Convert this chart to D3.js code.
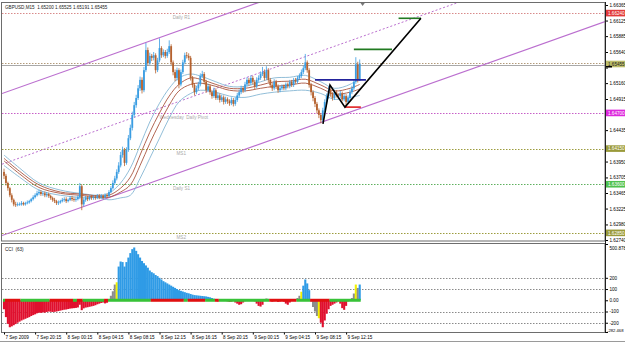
<!DOCTYPE html>
<html>
<head>
<meta charset="utf-8">
<script src="https://cdn.jsdelivr.net/npm/d3@7"></script>
<style>
  body { margin: 0; background: #fff; }
  text { font-family: "Liberation Sans", Arial, sans-serif; }
</style>
</head>
<body>
<div id="chart"></div>
<script>
// ---- data ----
var firstOpen = 1.6379;
var closes = [
  1.6373,1.6362,1.6354,1.6343,1.6336,1.6329,1.6328,1.6329,1.6329,1.6331,
  1.6329,1.6331,1.6332,1.6334,1.6337,1.6340,1.6343,1.6346,1.6348,1.6345,
  1.6346,1.6343,1.6345,1.6342,1.6339,1.6336,1.6334,1.6331,1.6332,1.6334,
  1.6336,1.6337,1.6334,1.6336,1.6339,1.6337,1.6336,1.6337,1.6340,1.6357,
  1.6329,1.6336,1.6339,1.6337,1.6340,1.6339,1.6340,1.6339,1.6342,1.6340,
  1.6342,1.6340,1.6343,1.6342,1.6348,1.6354,1.6362,1.6369,1.6379,1.6389,
  1.6405,1.6413,1.6393,1.6413,1.6431,1.6447,1.6467,1.6482,1.6493,1.6508,
  1.6521,1.6505,1.6536,1.6567,1.6547,1.6558,1.6555,1.6559,1.6536,1.6551,
  1.6570,1.6559,1.6564,1.6558,1.6564,1.6573,1.6548,1.6533,1.6524,1.6536,
  1.6514,1.6533,1.6548,1.6559,1.6558,1.6555,1.6524,1.6513,1.6502,1.6508,
  1.6514,1.6527,1.6530,1.6518,1.6505,1.6511,1.6502,1.6496,1.6505,1.6493,
  1.6497,1.6490,1.6494,1.6487,1.6491,1.6488,1.6485,1.6490,1.6484,1.6490,
  1.6497,1.6502,1.6508,1.6505,1.6514,1.6521,1.6516,1.6524,1.6518,1.6511,
  1.6521,1.6524,1.6530,1.6533,1.6524,1.6536,1.6521,1.6513,1.6508,1.6518,
  1.6511,1.6505,1.6508,1.6511,1.6508,1.6514,1.6511,1.6518,1.6513,1.6521,
  1.6518,1.6524,1.6527,1.6533,1.6539,1.6548,1.6536,1.6513,1.6502,1.6493,
  1.6484,1.6474,1.6467,1.6459,1.6474,1.6487,1.6496,1.6505,1.6499,1.6493,
  1.6502,1.6497,1.6496,1.6500,1.6491,1.6496,1.6487,1.6493,1.6502,1.6508,
  1.6518,1.6545,1.6520,1.65455
];
var highs = [
  1.6384,1.6376,1.6364,1.6356,1.6346,1.6338,1.6333,1.6332,1.6332,1.6334,
  1.6333,1.6333,1.6335,1.6336,1.6339,1.6343,1.6346,1.6350,1.6352,1.6351,
  1.6349,1.6349,1.6348,1.6347,1.6344,1.6341,1.6339,1.6336,1.6335,1.6336,
  1.6339,1.6340,1.6340,1.6338,1.6342,1.6342,1.6340,1.6340,1.6343,1.6362,
  1.6360,1.6339,1.6342,1.6342,1.6343,1.6343,1.6343,1.6343,1.6345,1.6345,
  1.6345,1.6344,1.6346,1.6346,1.6351,1.6357,1.6366,1.6373,1.6383,1.6394,
  1.6410,1.6418,1.6416,1.6417,1.6436,1.6452,1.6472,1.6487,1.6498,1.6513,
  1.6526,1.6525,1.6541,1.6578,1.6571,1.6563,1.6561,1.6564,1.6562,1.6555,
  1.6585,1.6573,1.6568,1.6567,1.6569,1.6582,1.6576,1.6551,1.6537,1.6540,
  1.6539,1.6537,1.6552,1.6563,1.6564,1.6562,1.6558,1.6527,1.6516,1.6512,
  1.6518,1.6531,1.6535,1.6533,1.6521,1.6515,1.6514,1.6505,1.6509,1.6508,
  1.6501,1.6500,1.6498,1.6497,1.6495,1.6494,1.6491,1.6494,1.6493,1.6494,
  1.6501,1.6506,1.6512,1.6511,1.6518,1.6525,1.6524,1.6528,1.6527,1.6521,
  1.6525,1.6528,1.6534,1.6541,1.6537,1.6542,1.6539,1.6524,1.6516,1.6522,
  1.6521,1.6514,1.6512,1.6514,1.6514,1.6517,1.6517,1.6521,1.6521,1.6524,
  1.6524,1.6527,1.6531,1.6537,1.6543,1.6561,1.6551,1.6539,1.6516,1.6505,
  1.6496,1.6487,1.6477,1.6470,1.6478,1.6491,1.6500,1.6511,1.6508,1.6502,
  1.6506,1.6505,1.6500,1.6504,1.6503,1.6499,1.6499,1.6497,1.6506,1.6512,
  1.6522,1.6556,1.6549,1.65525
];
var lows = [
  1.6368,1.6358,1.6350,1.6340,1.6332,1.6326,1.6325,1.6326,1.6327,1.6327,
  1.6327,1.6327,1.6329,1.6330,1.6332,1.6335,1.6338,1.6341,1.6343,1.6342,
  1.6342,1.6340,1.6340,1.6339,1.6336,1.6333,1.6331,1.6328,1.6328,1.6330,
  1.6332,1.6333,1.6331,1.6332,1.6334,1.6334,1.6333,1.6333,1.6335,1.6337,
  1.6320,1.6326,1.6333,1.6334,1.6335,1.6336,1.6336,1.6336,1.6337,1.6337,
  1.6338,1.6337,1.6338,1.6339,1.6340,1.6346,1.6352,1.6359,1.6366,1.6376,
  1.6386,1.6401,1.6388,1.6390,1.6410,1.6428,1.6443,1.6463,1.6478,1.6490,
  1.6504,1.6500,1.6502,1.6533,1.6543,1.6544,1.6550,1.6551,1.6531,1.6533,
  1.6548,1.6555,1.6556,1.6554,1.6555,1.6561,1.6544,1.6528,1.6519,1.6520,
  1.6508,1.6511,1.6530,1.6545,1.6554,1.6551,1.6520,1.6509,1.6497,1.6499,
  1.6505,1.6511,1.6524,1.6514,1.6501,1.6502,1.6498,1.6492,1.6493,1.6490,
  1.6490,1.6486,1.6487,1.6483,1.6484,1.6484,1.6481,1.6482,1.6480,1.6481,
  1.6487,1.6494,1.6499,1.6501,1.6502,1.6511,1.6512,1.6513,1.6514,1.6507,
  1.6508,1.6518,1.6521,1.6527,1.6520,1.6521,1.6517,1.6509,1.6504,1.6505,
  1.6507,1.6501,1.6502,1.6505,1.6505,1.6505,1.6508,1.6508,1.6510,1.6510,
  1.6515,1.6515,1.6521,1.6524,1.6530,1.6536,1.6532,1.6509,1.6497,1.6488,
  1.6479,1.6469,1.6462,1.6454,1.6456,1.6471,1.6484,1.6492,1.6495,1.6489,
  1.6490,1.6494,1.6492,1.6493,1.6488,1.6488,1.6479,1.6484,1.6490,1.6499,
  1.6505,1.6515,1.6517,1.65191
];
var opens = [firstOpen].concat(closes.slice(0, -1));

// moving average lines, read at sample bars
var maIdx   = [0,8,18,29,39,49,54,60,65,70,75,80,85,90,96,101,109,116,124,132,139,147,155,163,170,178,183];
var maFast  = [1.6405,1.6385,1.6362,1.6351,1.6346,1.6343,1.6346,1.6362,1.6385,1.6420,1.6456,1.6485,1.6508,1.6524,1.6530,1.6527,1.6518,1.6511,1.6511,1.6518,1.6524,1.6525,1.6528,1.6518,1.6508,1.6514,1.6524];
var maMid1  = [1.6400,1.6380,1.6359,1.6348,1.6345,1.6342,1.6343,1.6354,1.6371,1.6405,1.6440,1.6470,1.6496,1.6514,1.6524,1.6522,1.6514,1.6508,1.6508,1.6513,1.6518,1.6519,1.6522,1.6513,1.6504,1.6508,1.6514];
var maMid2  = [1.6396,1.6376,1.6355,1.6346,1.6343,1.6340,1.6340,1.6348,1.6359,1.6389,1.6423,1.6454,1.6482,1.6504,1.6514,1.6516,1.6511,1.6505,1.6504,1.6508,1.6511,1.6513,1.6516,1.6508,1.6499,1.6502,1.6507];
var maSlow  = [1.6389,1.6371,1.6351,1.6343,1.6340,1.6339,1.6336,1.6339,1.6343,1.6369,1.6400,1.6431,1.6462,1.6487,1.6500,1.6505,1.6502,1.6496,1.6494,1.6499,1.6502,1.6504,1.6505,1.6500,1.6491,1.6494,1.6497];

// CCI(63) per bar
var cci = [
  -80,-150,-210,-240,-232,-222,-212,-200,-190,-180,
  -172,-165,-157,-150,-140,-132,-125,-116,-110,-112,
  -108,-110,-104,-100,-102,-104,-103,-100,-96,-92,
  -88,-84,-82,-78,-74,-72,-70,-68,-64,-40,
  -88,-72,-65,-62,-58,-54,-50,-44,-36,-30,
  -24,-20,-28,-22,10,40,80,140,160,300,
  345,340,300,340,380,420,455,470,440,410,
  380,350,330,310,290,265,250,240,225,215,
  200,185,170,160,150,140,130,120,110,100,
  90,84,78,72,66,62,56,50,46,44,
  42,40,38,36,34,30,26,20,14,-6,
  -10,2,4,-4,2,-10,-14,-12,-6,-20,
  -30,-40,-35,-20,-8,6,2,8,4,-10,
  -30,-50,-56,-40,10,16,12,8,-12,-8,
  4,-14,-10,-4,-12,-30,-40,-20,-6,2,
  10,20,40,76,130,185,150,90,-10,-60,
  -100,-140,-160,-200,-240,-180,-120,-80,-50,-40,
  -30,-20,-10,-30,-70,-85,-50,-10,10,20,
  60,140,110,140
];
var cciGray = [54,55,56,57,111,112,114,125,126,127,128,134,135,136,137,140,149,150,151,152,158,159,160,161,178,179,180,182];
var cciYellow = [58,153,162,181];
// zero line colour runs [from, to, state]
var zeroRuns = [[0,0,"up"],[1,8,"down"],[9,23,"up"],[24,35,"down"],[36,37,"up"],[38,40,"down"],
  [41,51,"up"],[52,53,"down"],[54,75,"up"],[76,92,"down"],[93,94,"up"],[95,103,"down"],
  [104,108,"up"],[109,110,"down"],[111,136,"up"],[137,150,"down"],[151,157,"up"],
  [158,167,"down"],[168,183,"up"]];
var cciLevels = [200, 100, -100, -200];
var cciTicks = [500.878, 200, 100, 0, -100, -200, -282.468];
var cciTickLabels = ["500.878", "200", "100", "0.00", "-100", "-200", "-282.468"];

// axes
var priceTicks = [1.62740,1.62980,1.63225,1.63465,1.63705,1.63950,1.64190,1.64435,
  1.64675,1.64915,1.65160,1.65400,1.65640,1.65885,1.66125,1.66365];
var timeIdx = [0,16,32,48,64,80,96,112,128,144,160,176];
var timeLabels = ["7 Sep 2009","7 Sep 20:15","8 Sep 00:15","8 Sep 04:15","8 Sep 08:15",
  "8 Sep 12:15","8 Sep 16:15","8 Sep 20:15","9 Sep 00:15","9 Sep 04:15","9 Sep 08:15","9 Sep 12:15"];

// pivot levels
var levelNames  = ["Daily R1", "Wednesday  Daily Pivot", "MS1", "Daily S1", "MS2"];
var levelPrices = [1.66240, 1.64700, 1.64150, 1.63600, 1.62850];
var pivotDotted = 1.65475;
var bidLine = 1.65440;

// channel anchors (bar index, price)
var channelIdx = [0, 300];
var chUpper = [1.6501, 1.6820];
var chMid   = [1.6392, 1.6711];
var chLower = [1.6282, 1.6601];

// drawn objects
var zigIdx   = [164.1, 167.7, 175.4, 214.5];
var zigPrice = [1.6453, 1.6513, 1.6479, 1.6616];
var hSegStart = [160, 175.4, 180, 203];
var hSegEnd   = [186.2, 183.6, 199.6, 214.5];
var hSegPrice = [1.6521, 1.6479, 1.6568, 1.6616];
var hSegColor = ["#23239c", "#e02020", "#217a21", "#217a21"];

// ---- layout ----
var W = 625, H = 342;
var left = 2, right = 605;
var mainTop = 2, mainBot = 241, cciTop = 243, cciBot = 332;

var x = d3.scaleLinear().domain([0, 176]).range([4, 346.1]);
var y = d3.scaleLinear().domain([1.62740, 1.66365]).range([240, 5]);
var yc = d3.scaleLinear().domain([-282.468, 500.878]).range([cciBot, 244]);

var svg = d3.select("#chart").append("svg")
  .attr("width", W).attr("height", H)
  .style("font-size", "4.6px");

var defs = svg.append("defs");
defs.append("clipPath").attr("id", "clipMain").append("rect")
  .attr("x", left).attr("y", mainTop).attr("width", right - left).attr("height", mainBot - mainTop);
defs.append("clipPath").attr("id", "clipCci").append("rect")
  .attr("x", left).attr("y", cciTop).attr("width", right - left).attr("height", cciBot - cciTop);

var main = svg.append("g").attr("clip-path", "url(#clipMain)");

// horizontal levels
var levelColor = {"Daily R1": "#d88a8a", "Wednesday  Daily Pivot": "#c75fc7", "MS1": "#9c9c3e", "Daily S1": "#5fb05f", "MS2": "#9c9c3e"};
var levelLabelX = {"Daily R1": 190, "Wednesday  Daily Pivot": 208, "MS1": 186, "Daily S1": 190, "MS2": 186};
levelPrices.forEach(function(p, i) {
  main.append("line")
    .attr("x1", left).attr("x2", right)
    .attr("y1", Math.round(y(p)) + 0.5).attr("y2", Math.round(y(p)) + 0.5)
    .style("stroke", levelColor[levelNames[i]])
    .style("stroke-dasharray", "1.5,1.5");
  main.append("text")
    .attr("x", levelLabelX[levelNames[i]])
    .attr("y", Math.round(y(p)) + 5.5)
    .style("text-anchor", "end")
    .style("fill", "#aaaaaa")
    .style("white-space", "pre")
    .text(levelNames[i]);
});
main.append("line")
  .attr("x1", left).attr("x2", right)
  .attr("y1", Math.round(y(pivotDotted)) + 0.5).attr("y2", Math.round(y(pivotDotted)) + 0.5)
  .style("stroke", "#b29a7a").style("stroke-dasharray", "1.5,1.5");
main.append("line")
  .attr("x1", left).attr("x2", right)
  .attr("y1", Math.round(y(bidLine)) + 0.5).attr("y2", Math.round(y(bidLine)) + 0.5)
  .style("stroke", "#a9a9a9");

// channel
function chLine(a) {
  var slope = (a[1] - a[0]) / (channelIdx[1] - channelIdx[0]);
  var i0 = x.invert(left), i1 = x.invert(right);
  return [[x(i0), y(a[0] + slope * (i0 - channelIdx[0]))], [x(i1), y(a[0] + slope * (i1 - channelIdx[0]))]];
}
[chUpper, chLower].forEach(function(a) {
  main.append("path").attr("d", d3.line()(chLine(a)))
    .style("stroke", "#bb6fcf").style("stroke-width", 1.2).style("fill", "none");
});
main.append("path").attr("d", d3.line()(chLine(chMid)))
  .style("stroke", "#bb6fcf").style("stroke-width", 1).style("stroke-dasharray", "2,2").style("fill", "none");

// moving averages
var maLine = d3.line().curve(d3.curveCatmullRom)
  .x(function(d) { return x(d[0]); })
  .y(function(d) { return y(d[1]); });
[[maSlow, "#86b7d4"], [maFast, "#86b7d4"], [maMid2, "#a9553f"], [maMid1, "#a9553f"]].forEach(function(m) {
  main.append("path")
    .attr("d", maLine(maIdx.map(function(v, i) { return [v, m[0][i]]; })))
    .style("fill", "none").style("stroke", m[1]).style("stroke-width", 0.9);
});

// candles
var candles = closes.map(function(c, i) {
  return {i: i, o: opens[i], h: highs[i], l: lows[i], c: c};
});
function candleColor(d) { return d.c >= d.o ? "#3a9de2" : "#b5622f"; }
main.selectAll(".wick").data(candles).enter().append("line")
  .attr("class", "wick")
  .attr("x1", function(d) { return x(d.i); })
  .attr("x2", function(d) { return x(d.i); })
  .attr("y1", function(d) { return y(d.h); })
  .attr("y2", function(d) { return y(d.l); })
  .style("stroke", candleColor).style("stroke-width", 0.8);
main.selectAll(".body").data(candles).enter().append("rect")
  .attr("class", "body")
  .attr("x", function(d) { return x(d.i) - 0.9; })
  .attr("width", 1.8)
  .attr("y", function(d) { return y(Math.max(d.o, d.c)); })
  .attr("height", function(d) { return Math.max(0.8, Math.abs(y(d.o) - y(d.c))); })
  .style("fill", candleColor);

// drawn objects
hSegPrice.forEach(function(p, i) {
  main.append("line")
    .attr("x1", x(hSegStart[i])).attr("x2", x(hSegEnd[i]))
    .attr("y1", y(p)).attr("y2", y(p))
    .style("stroke", hSegColor[i]).style("stroke-width", 1.6);
});
main.append("path")
  .attr("d", d3.line()(zigIdx.map(function(v, i) { return [x(v), y(zigPrice[i])]; })))
  .style("fill", "none").style("stroke", "#000").style("stroke-width", 1.6);

// title
svg.append("text").attr("x", 5).attr("y", 8.5).style("fill", "#222")
  .style("white-space", "pre")
  .text("GBPUSD,M15  " + [opens, highs, lows, closes].map(function(a) { return d3.format(".5f")(a[a.length - 1]); }).join(" "));

// chart shift marker
var shiftX = x(184.5);
svg.append("path").attr("d", "M" + (shiftX - 2.5) + ",2.5L" + (shiftX + 2.5) + ",2.5L" + shiftX + ",6Z")
  .style("fill", "#777");

// panel borders
svg.append("rect").attr("x", 1.5).attr("y", mainTop + 0.5).attr("width", right - 1.5).attr("height", mainBot - mainTop - 0.5)
  .style("fill", "none").style("stroke", "#6d6d6d");
svg.append("rect").attr("x", 1.5).attr("y", cciTop + 0.5).attr("width", right - 1.5).attr("height", cciBot - cciTop)
  .style("fill", "none").style("stroke", "#6d6d6d");
svg.append("line").attr("x1", 0).attr("x2", W).attr("y1", 341.5).attr("y2", 341.5).style("stroke", "#9a9a9a");

// price label boxes sit over the axis, so tick labels underneath them are hidden
var boxPrices = levelPrices.concat([closes[closes.length - 1]]);
function underBox(v) {
  return boxPrices.some(function(p) { return Math.abs(y(p) - y(v)) < 6; });
}

// price axis
var pAxis = svg.append("g").attr("transform", "translate(" + (right + 0.5) + ",0)")
  .call(d3.axisRight(y).tickValues(priceTicks).tickSize(2.5).tickPadding(1.5).tickFormat(d3.format(".5f")));
pAxis.select(".domain").remove();
pAxis.selectAll("text").style("font-size", "4.6px").style("font-family", "Liberation Sans, Arial, sans-serif");
pAxis.selectAll(".tick").filter(underBox).select("text").remove();
svg.append("line").attr("x1", right + 0.5).attr("x2", right + 0.5).attr("y1", mainTop).attr("y2", cciBot + 1)
  .style("stroke", "#222");

var boxFill = {"Daily R1": "#e23a3a", "Wednesday  Daily Pivot": "#dd28dd", "MS1": "#9a9a3a", "Daily S1": "#4fc24f", "MS2": "#9a9a3a"};
function priceBox(p, fill, txt, txtColor) {
  var cy = y(p);
  svg.append("rect").attr("x", right + 1).attr("y", cy - 3.3).attr("width", W - right - 1).attr("height", 6.6)
    .style("fill", fill);
  svg.append("text").attr("x", right + 3).attr("y", cy + 1.7).style("fill", txtColor).text(txt);
}
levelPrices.forEach(function(p, i) {
  priceBox(p, boxFill[levelNames[i]], d3.format(".5f")(p), "#fff");
});
priceBox(closes[closes.length - 1], "#bdbd6a", d3.format(".5f")(closes[closes.length - 1]), "#222");
svg.append("rect").attr("x", right + 1).attr("y", Math.round(y(bidLine)) + 1).attr("width", 6).attr("height", 1.5)
  .style("fill", "#000");

// CCI panel
var sub = svg.append("g").attr("clip-path", "url(#clipCci)");
cciLevels.forEach(function(v) {
  sub.append("line").attr("x1", left).attr("x2", right)
    .attr("y1", Math.round(yc(v)) + 0.5).attr("y2", Math.round(yc(v)) + 0.5)
    .style("stroke", "#8a8a8a").style("stroke-dasharray", "1.5,1.5");
});
function cciColor(d, i) {
  if (cciYellow.indexOf(i) >= 0) return "#f2f200";
  if (cciGray.indexOf(i) >= 0) return "#8c8c8c";
  return d >= 0 ? "#2f9be6" : "#e0102e";
}
sub.selectAll(".cci").data(cci).enter().append("rect")
  .attr("class", "cci")
  .attr("x", function(d, i) { return x(i) - 1.05; })
  .attr("width", 2.1)
  .attr("y", function(d) { return Math.min(yc(d), yc(0)); })
  .attr("height", function(d) { return Math.abs(yc(d) - yc(0)); })
  .style("fill", cciColor);
zeroRuns.forEach(function(r) {
  sub.append("rect")
    .attr("x", x(r[0]) - 1).attr("width", x(r[1]) - x(r[0]) + 2)
    .attr("y", yc(0) - 1.5).attr("height", 3)
    .style("fill", r[2] === "up" ? "#38c238" : "#e01010");
});
svg.append("text").attr("x", 5).attr("y", 250.5).style("fill", "#222").style("white-space", "pre").text("CCI  (63)");

var cAxis = svg.append("g").attr("transform", "translate(" + (right + 0.5) + ",0)")
  .call(d3.axisRight(yc).tickValues(cciTicks).tickSize(2.5).tickPadding(1.5)
    .tickFormat(function(d, i) { return cciTickLabels[i]; }));
cAxis.select(".domain").remove();
cAxis.selectAll("text").style("font-size", "4.6px").style("font-family", "Liberation Sans, Arial, sans-serif");
cAxis.selectAll(".tick").filter(function(d) { return d === cciTicks[0]; }).select("text").attr("dy", "1.1em");
cAxis.selectAll(".tick").filter(function(d) { return d === cciTicks[cciTicks.length - 1]; }).select("text")
  .attr("dy", "-0.2em").attr("x", 1.5).style("font-size", "4.2px");

// time axis
var tAxis = svg.append("g").attr("transform", "translate(0," + (cciBot + 0.5) + ")")
  .call(d3.axisBottom(x).tickValues(timeIdx).tickSize(2).tickPadding(1)
    .tickFormat(function(d, i) { return timeLabels[i]; }));
tAxis.select(".domain").remove();
tAxis.selectAll("text").style("text-anchor", "start").attr("dx", "0.2em")
  .style("font-size", "4.6px").style("font-family", "Liberation Sans, Arial, sans-serif");
</script>
</body>
</html>
